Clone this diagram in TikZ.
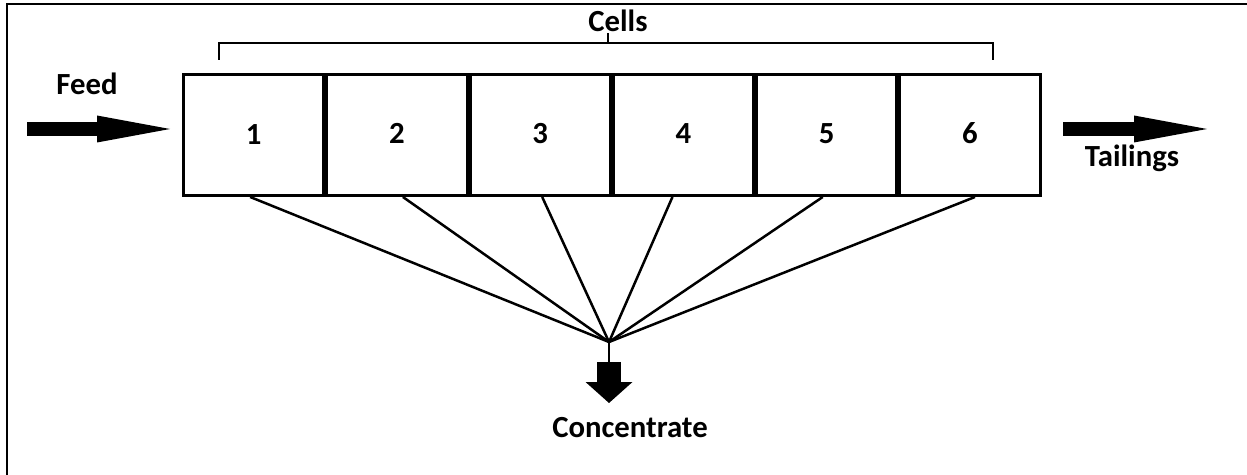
\documentclass[tikz,border=0pt]{standalone}
\usepackage{fontspec}
\setmainfont{Carlito}
\usepackage{xcolor}
\usepackage{tikz}
\usetikzlibrary{positioning,arrows.meta}

\begin{document}
\begin{tikzpicture}[x=0.02cm,y=-0.02cm,
      cellbox/.style={rectangle,draw,line width=0.06cm,minimum width=2.806cm,minimum height=2.42cm,font=\bfseries\fontsize{17.5}{20}\selectfont},
      lbl/.style={font=\bfseries\fontsize{17.5}{20}\selectfont,inner sep=0pt},
      fanline/.style={line width=0.05cm},
      flowarrow/.style={line width=0.28cm,-{Triangle[length=1.46cm,width=0.54cm,line width=0pt]}}]
      \useasboundingbox (0,0) rectangle (1247,475);
      \draw[line width=0.04cm] (7,475) -- (7,4) -- (1247,4);
      \node[cellbox,anchor=north west] (c1) at (182,73) {1};
      \node[cellbox,right=0pt of c1] (c2) {\raisebox{2pt}{2}};
      \node[cellbox,right=0pt of c2] (c3) {\raisebox{2pt}{3}};
      \node[cellbox,right=0pt of c3] (c4) {\raisebox{2pt}{4}};
      \node[cellbox,right=0pt of c4] (c5) {\raisebox{2pt}{5}};
      \node[cellbox,right=0pt of c5] (c6) {\raisebox{2pt}{6}};
      \node[lbl,anchor=base] (cells) at (618,32) {Cells};
      \node[lbl,anchor=base] (feed) at (87,95) {Feed};
      \node[lbl,anchor=base] (tail) at (1132,167) {Tailings};
      \node[lbl,anchor=base] (conc) at (630,438) {Concentrate};
      \draw[line width=0.6pt] (219,60) -- (219,43) -- (993,43) -- (993,60);
      \draw[line width=0.6pt] (608,43) -- (608,33);
      \coordinate (feedin) at (27,129);
      \coordinate (feedtip) at (170,129);
      \coordinate (tailout) at (1063,129);
      \coordinate (tailtip) at (1207,129);
      \draw[flowarrow] (feedin) -- (feedtip);
      \draw[flowarrow] (tailout) -- (tailtip);
      \coordinate (hub) at (609,342);
      \coordinate (drop) at (609,362);
      \coordinate (droptip) at (609,403);
      \draw[fanline] ([xshift=-0.07cm]c1.south) -- (hub);
      \draw[fanline] ([xshift=0.12cm]c2.south) -- (hub);
      \draw[fanline] ([xshift=0.04cm]c3.south) -- (hub);
      \draw[fanline] ([xshift=-0.22cm]c4.south) -- (hub);
      \draw[fanline] ([xshift=-0.08cm]c5.south) -- (hub);
      \draw[fanline] ([xshift=0.1cm]c6.south) -- (hub);
      \draw[fanline] (hub) -- (drop);
      \draw[line width=0.48cm,-{Triangle[length=0.42cm,width=0.94cm,line width=0pt]}] (drop) -- (droptip);
    \end{tikzpicture}
\end{document}
